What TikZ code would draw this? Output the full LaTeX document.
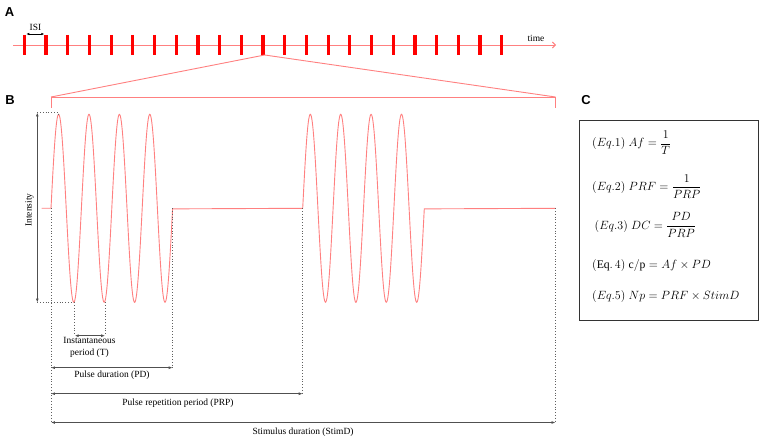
\documentclass[tikz,border=0pt]{standalone}
\usepackage{amsmath}
\usepackage{fontspec}
\setmainfont{Liberation Serif}
\newfontfamily\labfont{Liberation Sans}
\usetikzlibrary{arrows.meta}
\definecolor{wavec}{HTML}{FF8080}
\definecolor{barc}{HTML}{FF0000}
\definecolor{dimc}{HTML}{505050}
\definecolor{dotc}{HTML}{606060}
\begin{document}
\begin{tikzpicture}[x=1bp,y=-1bp,
  panel/.style={font=\labfont\bfseries\fontsize{13}{15}\selectfont, inner sep=0pt},
  lab/.style={font=\fontsize{9.5}{12}\selectfont, inner sep=0pt},
  eq/.style={font=\fontsize{11.7}{14}\selectfont, inner sep=0pt, anchor=west},
  wave/.style={draw=wavec, line width=0.9bp},
  barline/.style={draw=barc, line width=3.2bp},
  dots/.style={draw=dotc, dotted, line width=0.8bp},
  dimarrow/.style={draw=dimc, line width=0.9bp, {Latex[length=4pt,width=3pt]}-{Latex[length=4pt,width=3pt]}},
]
\useasboundingbox (0,0) rectangle (761,440);

% ---------- Panel labels
\node[panel] (pA) at (9.5,12) {A};
\node[panel] (pB) at (10,100) {B};
\node[panel] (pC) at (586,100) {C};

% ---------- Panel A: timeline
\coordinate (t0) at (13,45);
\coordinate (t1) at (556,45);
\draw[wave, -{Straight Barb[length=3pt,width=6pt]}] (t0) -- (t1);
\node[lab, anchor=south] (time) at (536,41.5) {time};
\foreach \i in {0,...,22}{
  \draw[barline] ({24.3+21.7*\i},35) -- ({24.3+21.7*\i},55);
}
\coordinate (isiL) at (26.3,34);
\coordinate (isiR) at (44.3,34);
\draw[draw=black, line width=0.8bp, {Latex[length=3pt,width=2.5pt]}-{Latex[length=3pt,width=2.5pt]}] (isiL) -- (isiR);
\node[lab, anchor=south] (isi) at (35.5,31) {ISI};

% zoom lines
\coordinate (zb) at (264.7,55);
\coordinate (zl) at (51,97);
\coordinate (zr) at (555.5,97);
\coordinate (zlb) at (51,108);
\coordinate (zrb) at (555.5,108);
\draw[wave] (zb) -- (zl);
\draw[wave] (zb) -- (zr);
\draw[wave] (zlb) -- (zl) -- (zr) -- (zrb);

% ---------- Panel B: waveform
\def\base{208.3}
\draw[wave] (41.7,\base) -- (51,\base)
  -- plot[domain=0:4, samples=241] ({51+30.4*\x},{\base-94*sin(360*\x)})
  -- (302.7,\base)
  -- plot[domain=0:4, samples=241] ({302.7+30.4*\x},{\base-94*sin(360*\x)})
  -- (555.5,\base);

% intensity
\coordinate (iT) at (37.3,112.5);
\coordinate (iB) at (37.3,302.5);
\draw[dots] (iT) -- (58.6,112.5) -- (58.6,114.5);
\draw[dots] (iB) -- (74.7,302.5);
\draw[dimarrow] (iT) -- (iB);
\node[lab, rotate=90] (intens) at (29.5,210) {Intensity};

% vertical dotted guides
\coordinate (gA) at (51,\base);
\coordinate (gAe) at (51,422.5);
\coordinate (gT1) at (74.7,302.5);
\coordinate (gT1e) at (74.7,335.7);
\coordinate (gT2) at (105.1,302.5);
\coordinate (gT2e) at (105.1,335.7);
\coordinate (gP) at (172.6,\base);
\coordinate (gPe) at (172.6,367.7);
\coordinate (gR) at (302.7,\base);
\coordinate (gRe) at (302.7,393.7);
\coordinate (gS) at (555.5,\base);
\coordinate (gSe) at (555.5,422.5);
\draw[dots] (gA) -- (gAe);
\draw[dots] (gT1) -- (gT1e);
\draw[dots] (gT2) -- (gT2e);
\draw[dots] (gP) -- (gPe);
\draw[dots] (gR) -- (gRe);
\draw[dots] (gS) -- (gSe);

% dimension arrows
\draw[dimarrow] (gT1e) -- (gT2e);
\node[lab, align=center, anchor=north] (Tlab) at (89.5,337.5) {Instantaneous\\[-0.5pt]period (T)};
\draw[dimarrow] (51,367.7) -- (gPe);
\node[lab] (PDlab) at (112,375.5) {Pulse duration (PD)};
\draw[dimarrow] (51,393.7) -- (gRe);
\node[lab] (PRPlab) at (178,403) {Pulse repetition period (PRP)};
\draw[dimarrow] (51,422.5) -- (gSe);
\node[lab] (SDlab) at (303,432) {Stimulus duration (StimD)};

% ---------- Panel C: equations
\node[draw=black!80, line width=1bp, minimum width=179bp, minimum height=199bp, inner sep=0pt] (box) at (668.5,220.5) {};
\node[eq] (e1) at (592,143) {$(Eq.1)\;Af=\dfrac{1}{T}$};
\node[eq] (e2) at (592,186.5) {$(Eq.2)\;PRF=\dfrac{1}{PRP}$};
\node[eq] (e3) at (594.5,225) {$(Eq.3)\;DC=\dfrac{PD}{PRP}$};
\node[eq] (e4) at (592,265.5) {$(\mathrm{Eq.}\,4)\;\mathrm{c/p}=Af\times PD$};
\node[eq] (e5) at (592,296.5) {$(Eq.5)\;Np=PRF\times StimD$};
\end{tikzpicture}
\end{document}
